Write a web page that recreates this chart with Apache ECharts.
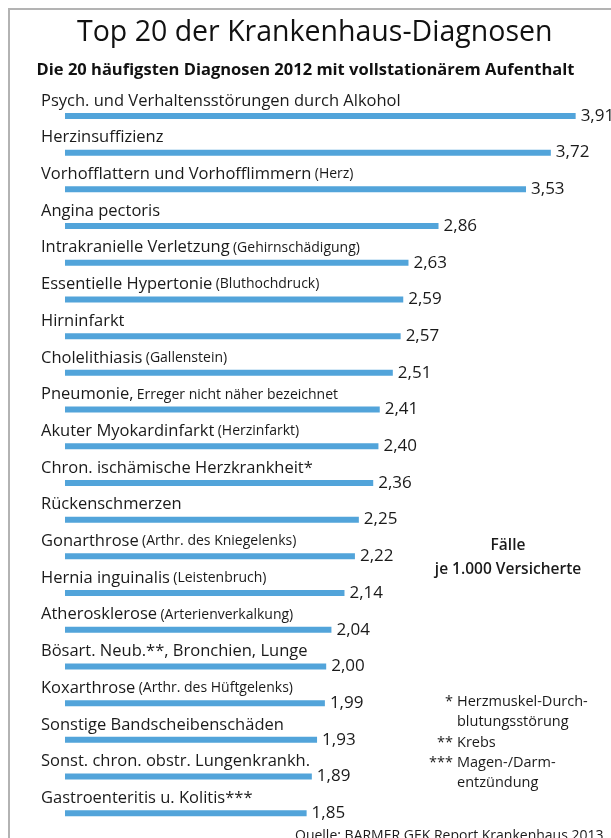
<!DOCTYPE html>
<html>
<head>
<meta charset="utf-8">
<script src="https://cdn.jsdelivr.net/npm/echarts@6/dist/echarts.min.js"></script>
<style>
  html, body { margin: 0; padding: 0; background: #fff; }
  #chart { width: 611px; height: 838px; }
</style>
</head>
<body>
<div id="chart"></div>
<script>
// Diagnosen (Haupttext + kleiner Zusatz)
var names = [
  'Psych. und Verhaltensstörungen durch Alkohol',
  'Herzinsuffizienz',
  'Vorhofflattern und Vorhofflimmern',
  'Angina pectoris',
  'Intrakranielle Verletzung',
  'Essentielle Hypertonie',
  'Hirninfarkt',
  'Cholelithiasis',
  'Pneumonie,',
  'Akuter Myokardinfarkt',
  'Chron. ischämische Herzkrankheit*',
  'Rückenschmerzen',
  'Gonarthrose',
  'Hernia inguinalis',
  'Atherosklerose',
  'Bösart. Neub.**, Bronchien, Lunge',
  'Koxarthrose',
  'Sonstige Bandscheibenschäden',
  'Sonst. chron. obstr. Lungenkrankh.',
  'Gastroenteritis u. Kolitis***'
];
var subs = [
  '', '', '(Herz)', '', '(Gehirnschädigung)', '(Bluthochdruck)', '',
  '(Gallenstein)', 'Erreger nicht näher bezeichnet', '(Herzinfarkt)', '', '',
  '(Arthr. des Kniegelenks)', '(Leistenbruch)', '(Arterienverkalkung)', '',
  '(Arthr. des Hüftgelenks)', '', '', ''
];
// Fälle je 1.000 Versicherte
var values = [3.91, 3.72, 3.53, 2.86, 2.63, 2.59, 2.57, 2.51, 2.41, 2.40,
              2.36, 2.25, 2.22, 2.14, 2.04, 2.00, 1.99, 1.93, 1.89, 1.85];

var footStars = ['*', '', '**', '***', ''];
var footTexts = ['Herzmuskel-Durch-', 'blutungsstörung', 'Krebs', 'Magen-/Darm-', 'entzündung'];

var FONT = '"Open Sans", "DejaVu Sans", sans-serif';
var TXT = '#1a1a1a';

var cats = names.map(function (n, i) { return i; });

var graphics = [
  {
    type: 'polyline',
    shape: { points: [[9, 838], [9, 9], [611, 9]] },
    style: { stroke: '#b3b3b3', lineWidth: 2, fill: null }
  },
  {
    type: 'text',
    style: { text: 'Fälle\nje 1.000 Versicherte', x: 508, y: 558, align: 'center', verticalAlign: 'middle',
      fontFamily: FONT, fontSize: 15.5, fontWeight: 600, lineHeight: 24, fill: TXT }
  },
  {
    type: 'text',
    style: { text: 'Quelle: BARMER GEK Report Krankenhaus 2013', x: 295, y: 836, verticalAlign: 'middle',
      fontFamily: FONT, fontSize: 14, fill: TXT }
  }
];
footTexts.forEach(function (t, i) {
  var y = 702 + i * 20.3;
  if (footStars[i]) {
    graphics.push({ type: 'text', style: { text: footStars[i], x: 453, y: y, align: 'right', verticalAlign: 'middle',
      fontFamily: FONT, fontSize: 14.5, fill: TXT } });
  }
  graphics.push({ type: 'text', style: { text: t, x: 457, y: y, align: 'left', verticalAlign: 'middle',
    fontFamily: FONT, fontSize: 14.5, fill: TXT } });
});

var chart = echarts.init(document.getElementById('chart'));
chart.setOption({
  backgroundColor: '#fff',
  animation: false,
  title: [
    {
      text: 'Top 20 der Krankenhaus-Diagnosen',
      left: 72, top: 13,
      textStyle: { fontFamily: FONT, fontSize: 28.5, fontWeight: 'normal', color: '#111' }
    },
    {
      text: 'Die 20 häufigsten Diagnosen 2012 mit vollstationärem Aufenthalt',
      left: 'center', top: 57,
      textStyle: { fontFamily: FONT, fontSize: 16.5, fontWeight: 'bold', color: '#111' }
    }
  ],
  grid: { left: 65, top: 97.6, width: 522.4, height: 734 },
  xAxis: {
    type: 'value', min: 0, max: 4,
    show: false
  },
  yAxis: {
    type: 'category',
    inverse: true,
    data: cats,
    axisLine: { show: false },
    axisTick: { show: false },
    axisLabel: {
      margin: 24,
      align: 'left',
      verticalAlign: 'bottom',
      padding: [0, 0, 5, 0],
      formatter: function (v) {
        var s = '{a|' + names[v] + '}';
        if (subs[v]) s += ' {b|' + subs[v] + '}';
        return s;
      },
      rich: {
        a: { fontFamily: FONT, fontSize: 16.5, color: TXT, lineHeight: 20 },
        b: { fontFamily: FONT, fontSize: 14, color: TXT, lineHeight: 20 }
      }
    }
  },
  series: [{
    type: 'bar',
    data: values,
    barWidth: 6,
    itemStyle: { color: '#52a4da' },
    label: {
      show: true,
      position: 'right',
      distance: 5,
      fontFamily: FONT,
      fontSize: 17,
      color: TXT,
      formatter: function (p) { return p.value.toFixed(2).replace('.', ','); }
    }
  }],
  graphic: graphics
});
</script>
</body>
</html>
